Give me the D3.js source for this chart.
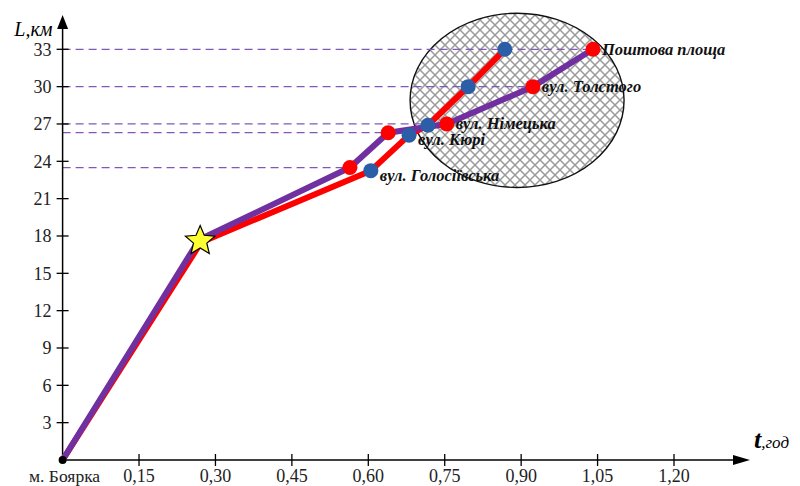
<!DOCTYPE html>
<html lang="uk">
<head>
    <meta charset="UTF-8">
    <title>Маршрут м. Боярка – Поштова площа</title>
    <script src="https://d3js.org/d3.v7.min.js"></script>
    <style>
        body { margin: 0; background: #fff; }
        svg { font-family: "Liberation Serif", "DejaVu Serif", serif; }
    </style>
</head>
<body>
    <svg id="chart" width="800" height="486"></svg>
    <script>
        // Stops along the route
        const stops = ["вул. Голосіївська", "вул. Кюрі", "вул. Німецька", "вул. Толстого", "Поштова площа"];

        // Purple route (red markers): time, h / distance, km (origin and star point first)
        const purpleT = [0, 0.268, 0.564, 0.639, 0.754, 0.923, 1.041];
        const purpleL = [0, 17.7, 23.5, 26.3, 27.0, 30.0, 33.0];

        // Red route (blue markers)
        const redT = [0, 0.272, 0.605, 0.680, 0.717, 0.796, 0.868];
        const redL = [0, 17.5, 23.25, 26.1, 26.9, 30.0, 33.0];

        // Star marker (transfer point)
        const starT = 0.270;
        const starL = 17.6;

        // Highlighted zone (centre and radii in data units)
        const zoneT = 0.892, zoneL = 28.9, zoneRT = 0.21, zoneRL = 7.0;

        // Ticks
        const xTicks = [0.15, 0.30, 0.45, 0.60, 0.75, 0.90, 1.05, 1.20];
        const yTicks = [3, 6, 9, 12, 15, 18, 21, 24, 27, 30, 33];

        const width = 800;
        const height = 486;
        const svg = d3.select("#chart");

        const x = d3.scaleLinear().domain([0, 1.2]).range([62.6, 674]);
        const y = d3.scaleLinear().domain([0, 33]).range([460, 49.3]);

        const locale = d3.formatLocale({ decimal: ",", thousands: " ", grouping: [3], currency: ["", ""] });
        const fmt = locale.format(".2f");

        // hatch pattern for the zone
        const defs = svg.append("defs");
        const pat = defs.append("pattern")
            .attr("id", "hatch")
            .attr("patternUnits", "userSpaceOnUse")
            .attr("width", 10)
            .attr("height", 10);
        pat.append("rect").attr("width", 10).attr("height", 10).attr("fill", "#fff");
        pat.append("path")
            .attr("d", "M0,0L10,10M10,0L0,10")
            .attr("stroke", "#9a9a9a")
            .attr("stroke-width", 1.5);

        svg.append("ellipse")
            .attr("cx", x(zoneT))
            .attr("cy", y(zoneL))
            .attr("rx", x(zoneT + zoneRT) - x(zoneT))
            .attr("ry", y(zoneL - zoneRL) - y(zoneL))
            .attr("fill", "url(#hatch)")
            .attr("stroke", "#111")
            .attr("stroke-width", 1.4);

        // dashed guide lines to the purple route stops
        const stopIdx = d3.range(2, purpleT.length);
        svg.selectAll(".guide")
            .data(stopIdx)
            .enter()
            .append("line")
            .attr("class", "guide")
            .attr("x1", x(0))
            .attr("x2", i => x(purpleT[i]))
            .attr("y1", i => y(purpleL[i]))
            .attr("y2", i => y(purpleL[i]))
            .attr("stroke", "#8058b8")
            .attr("stroke-width", 1.2)
            .attr("stroke-dasharray", "8,5");

        // axes
        const x0 = x(0), y0 = y(0);
        const axisG = svg.append("g").attr("stroke", "#000");
        axisG.append("line")
            .attr("x1", x0).attr("x2", width - 64)
            .attr("y1", y0).attr("y2", y0)
            .attr("stroke-width", 1.5);
        axisG.append("path")
            .attr("d", `M${width - 50},${y0}L${width - 67},${y0 - 5}L${width - 67},${y0 + 5}Z`)
            .attr("fill", "#000").attr("stroke", "none");
        axisG.append("line")
            .attr("x1", x0).attr("x2", x0)
            .attr("y1", y0).attr("y2", 26)
            .attr("stroke-width", 1.5);
        axisG.append("path")
            .attr("d", `M${x0},15L${x0 - 5.5},29L${x0 + 5.5},29Z`)
            .attr("fill", "#000").attr("stroke", "none");

        axisG.selectAll(".xt")
            .data(xTicks)
            .enter()
            .append("line")
            .attr("x1", d => x(d)).attr("x2", d => x(d))
            .attr("y1", y0 - 6).attr("y2", y0 + 6)
            .attr("stroke-width", 1.3);
        axisG.selectAll(".yt")
            .data(yTicks)
            .enter()
            .append("line")
            .attr("x1", x0 - 6).attr("x2", x0 + 6)
            .attr("y1", d => y(d)).attr("y2", d => y(d))
            .attr("stroke-width", 1.3);

        svg.selectAll(".xl")
            .data(xTicks)
            .enter()
            .append("text")
            .attr("x", d => x(d))
            .attr("y", 482)
            .attr("text-anchor", "middle")
            .attr("font-size", 18)
            .attr("fill", "#222")
            .text(d => fmt(d));
        svg.selectAll(".yl")
            .data(yTicks)
            .enter()
            .append("text")
            .attr("x", x0 - 11)
            .attr("y", d => y(d))
            .attr("dy", "0.36em")
            .attr("text-anchor", "end")
            .attr("font-size", 18)
            .attr("fill", "#222")
            .text(d => d);

        svg.append("text")
            .attr("x", x0 + 2).attr("y", 482)
            .attr("text-anchor", "middle")
            .attr("font-size", 17.5)
            .attr("fill", "#222")
            .text("м. Боярка");

        // axis titles
        svg.append("text")
            .attr("x", x0 - 10).attr("y", 36)
            .attr("text-anchor", "end")
            .attr("font-size", 20)
            .attr("font-style", "italic")
            .text("L,км");
        const tt = svg.append("text")
            .attr("x", 754).attr("y", 448)
            .attr("font-style", "italic");
        tt.append("tspan").attr("font-size", 26).attr("font-weight", "bold").text("t");
        tt.append("tspan").attr("font-size", 17).text(",год");

        // route lines
        const line = d3.line().x(d => x(d[0])).y(d => y(d[1])).curve(d3.curveLinear);
        const redPts = d3.zip(redT, redL);
        const purplePts = d3.zip(purpleT, purpleL);

        svg.append("path")
            .datum(redPts)
            .attr("d", line)
            .attr("fill", "none")
            .attr("stroke", "#ff0000")
            .attr("stroke-width", 6)
            .attr("stroke-linejoin", "round");
        svg.append("path")
            .datum(purplePts)
            .attr("d", line)
            .attr("fill", "none")
            .attr("stroke", "#7030a0")
            .attr("stroke-width", 6)
            .attr("stroke-linejoin", "round");

        // stop markers
        svg.selectAll(".pdot")
            .data(stopIdx)
            .enter()
            .append("circle")
            .attr("cx", i => x(purpleT[i]))
            .attr("cy", i => y(purpleL[i]))
            .attr("r", 7.5)
            .attr("fill", "#ff0000");
        svg.selectAll(".rdot")
            .data(stopIdx)
            .enter()
            .append("circle")
            .attr("cx", i => x(redT[i]))
            .attr("cy", i => y(redL[i]))
            .attr("r", 7.5)
            .attr("fill", "#2b5ea7");

        // origin
        svg.append("circle")
            .attr("cx", x0).attr("cy", y0)
            .attr("r", 4).attr("fill", "#000");

        // star
        const starPts = d3.range(10).map(k => {
            const r = k % 2 === 0 ? 15.5 : 7;
            const a = -Math.PI / 2 + k * Math.PI / 5;
            return [r * Math.cos(a), r * Math.sin(a)];
        });
        svg.append("path")
            .attr("d", "M" + starPts.join("L") + "Z")
            .attr("transform", `translate(${x(starT)},${y(starL)})`)
            .attr("fill", "#ffff33")
            .attr("stroke", "#000")
            .attr("stroke-width", 1.2);

        // stop labels next to the right-most marker
        // (labels on blue markers sit a bit lower, as in the source figure)
        const onPurple = i => purpleT[i] >= redT[i];
        svg.selectAll(".stop")
            .data(stopIdx)
            .enter()
            .append("text")
            .attr("x", i => x(Math.max(purpleT[i], redT[i])) + 9)
            .attr("y", i => y(onPurple(i) ? purpleL[i] : redL[i]))
            .attr("dy", i => onPurple(i) ? "0.32em" : "0.6em")
            .attr("font-size", 16.5)
            .attr("font-style", "italic")
            .attr("font-weight", "bold")
            .attr("fill", "#111")
            .text(i => stops[i - 2]);
    </script>
</body>
</html>
